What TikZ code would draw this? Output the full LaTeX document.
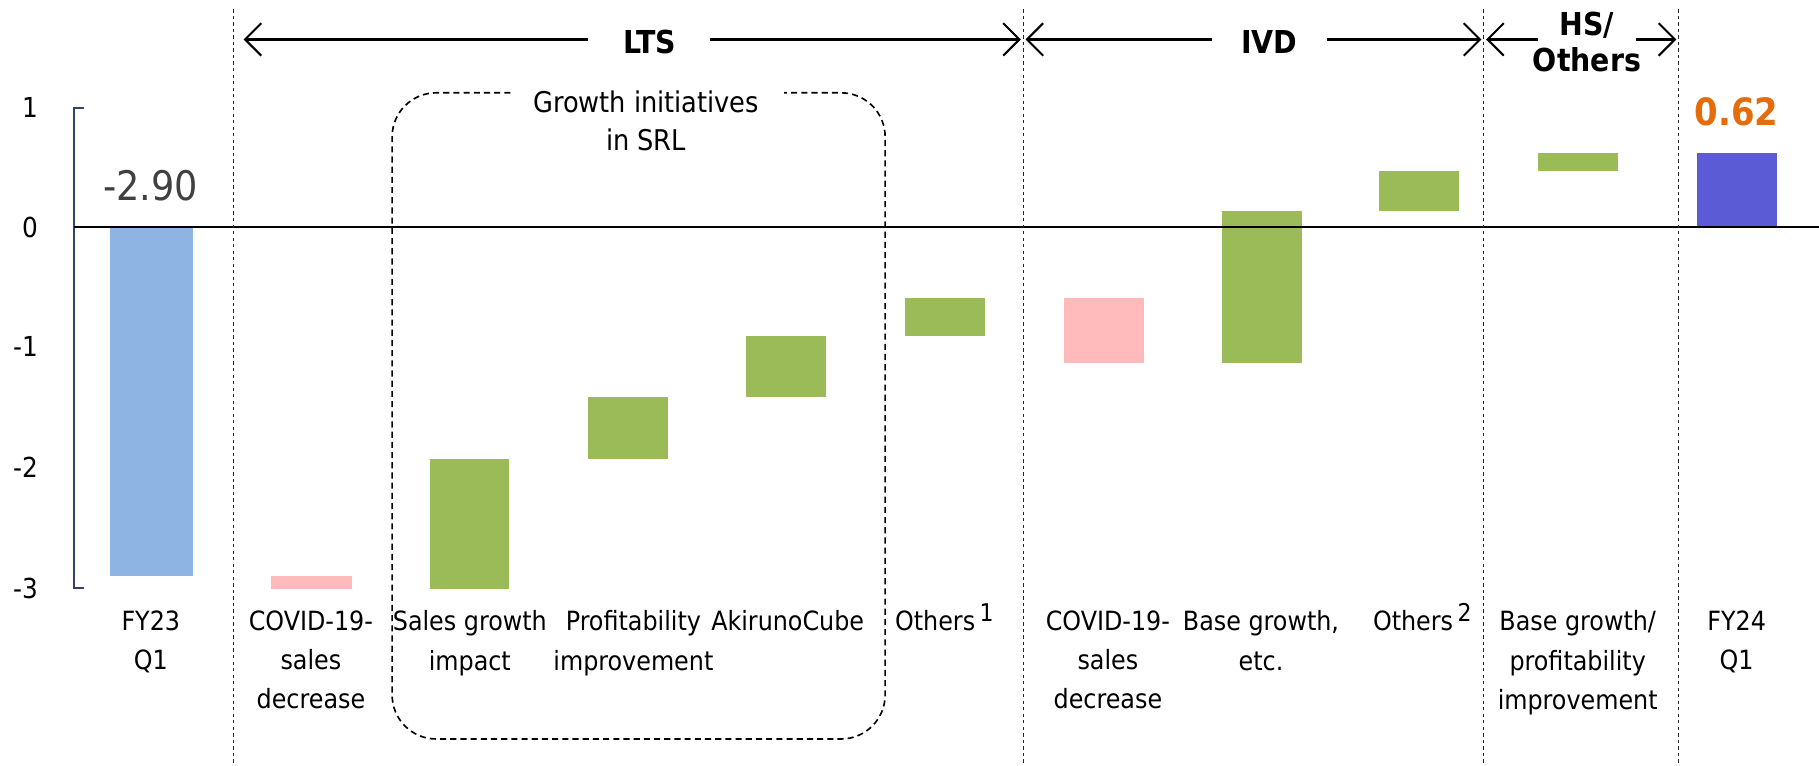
\documentclass[tikz,border=0pt]{standalone}
\usepackage{fontspec}
\setmainfont{DejaVu Sans Condensed}
\usetikzlibrary{arrows.meta}
\definecolor{barblue}{HTML}{8EB4E3}
\definecolor{barpink}{HTML}{FFBBBB}
\definecolor{bargreen}{HTML}{9BBB59}
\definecolor{barviolet}{HTML}{5B5BD6}
\definecolor{valorange}{HTML}{E46C0A}
\definecolor{valgray}{HTML}{404040}
\definecolor{axisnavy}{HTML}{2F4468}
\newcommand{\footmark}[1]{\smash{\raisebox{0.65ex}{\fontsize{12}{12}\selectfont #1}}}
\tikzset{
  sepline/.style={draw=black!85, line width=0.5pt, dash pattern=on 1.6pt off 1.6pt},
  brace/.style={-{Straight Barb[length=2.8mm,width=5.6mm,line width=1pt]}, line width=1.1pt},
  cat/.style={font=\fontsize{13}{19.3}\selectfont, align=center, anchor=north, inner sep=0pt},
  head/.style={font=\fontsize{15.5}{18.5}\selectfont\bfseries, align=center, inner sep=0pt},
  ticklab/.style={font=\fontsize{13.5}{16}\selectfont, anchor=east, inner sep=0pt},
  box/.style={draw=black, line width=0.8pt, dash pattern=on 3pt off 2pt, rounded corners=38*0.02cm}
}
\begin{document}
\begin{tikzpicture}[x=0.02cm, y=-0.02cm]
\useasboundingbox (0,0) rectangle (1568,660);

% waterfall bars (1 unit = 103.5 px, zero at y = 196)
\fill[barblue]   (95,196)   rectangle (166,496.2);
\fill[barpink]   (234,496.2) rectangle (303,507.5);
\fill[bargreen]  (371,507.5) rectangle (439,395.8);
\fill[bargreen]  (507,395.8) rectangle (576,341.9);
\fill[bargreen]  (643,341.9) rectangle (712,289.2);
\fill[bargreen]  (780,289.2) rectangle (849,257.1);
\fill[barpink]   (917,257.1) rectangle (986,313);
\fill[bargreen]  (1053,313)  rectangle (1122,181.5);
\fill[bargreen]  (1189,181.5) rectangle (1258,147.4);
\fill[bargreen]  (1326,147.4) rectangle (1395,131.8);
\fill[barviolet] (1463,131.8) rectangle (1532,196);

% value axis
\draw[axisnavy, line width=0.9pt] (72,93) -- (64,93) -- (64,507) -- (72,507);
\node[ticklab] (t1) at (33,93) {1};
\node[ticklab] (t0) at (33,196) {0};
\node[ticklab] (tm1) at (33,299) {-1};
\node[ticklab] (tm2) at (33,403) {-2};
\node[ticklab] (tm3) at (33,507) {-3};
\draw[black, line width=1pt] (64,196) -- (1568,196);

% segment separators
\foreach \sx in {201,882,1279,1447} \draw[sepline] (\sx,8) -- (\sx,660);

% segment headings with span arrows
\node[head] (lts) at (560,36) {LTS};
\node[head] (ivd) at (1094,36) {IVD};
\node[head] (hs) at (1368,36) {HS/\\[-1pt]Others};
\coordinate (ltsL) at (210,34);
\coordinate (ltsR) at (880,34);
\coordinate (ivdL) at (884,34);
\coordinate (ivdR) at (1277,34);
\coordinate (hsL) at (1281,34);
\coordinate (hsR) at (1445,34);
\draw[brace] (507,34) -- (ltsL);
\draw[brace] (612,34) -- (ltsR);
\draw[brace] (1045,34) -- (ivdL);
\draw[brace] (1144,34) -- (ivdR);
\draw[brace] (1326,34) -- (hsL);
\draw[brace] (1410,34) -- (hsR);

% growth initiatives frame
\draw[box] (440,80) -- (338,80) -- (338,637) -- (763,637) -- (763,80) -- (676,80);
\node[font=\fontsize{14}{18.5}\selectfont, align=center, inner sep=0pt] (gi) at (557,104) {Growth initiatives\\in SRL};

% totals
\node[font=\fontsize{20}{24}\selectfont, text=valgray, inner sep=0pt] (v1) at (130,160) {-2.90};
\node[font=\fontsize{18.5}{22}\selectfont\bfseries, text=valorange, inner sep=0pt] (v2) at (1497,96) {0.62};

% category labels
\node[cat] (c1) at (130,526) {FY23\\Q1};
\node[cat] (c2) at (268,526) {COVID-19-\\sales\\decrease};
\node[cat] (c3) at (405,526) {Sales growth\\impact};
\node[cat] (c4) at (546,526) {Profitability\\improvement};
\node[cat] (c5) at (679,526) {AkirunoCube};
\node[cat] (c6) at (814,526) {Others\,\footmark{1}};
\node[cat] (c7) at (955,526) {COVID-19-\\sales\\decrease};
\node[cat] (c8) at (1087,526) {Base growth,\\etc.};
\node[cat] (c9) at (1226,526) {Others\,\footmark{2}};
\node[cat] (c10) at (1360,526) {Base growth/\\profitability\\improvement};
\node[cat] (c11) at (1497,526) {FY24\\Q1};
\end{tikzpicture}
\end{document}
